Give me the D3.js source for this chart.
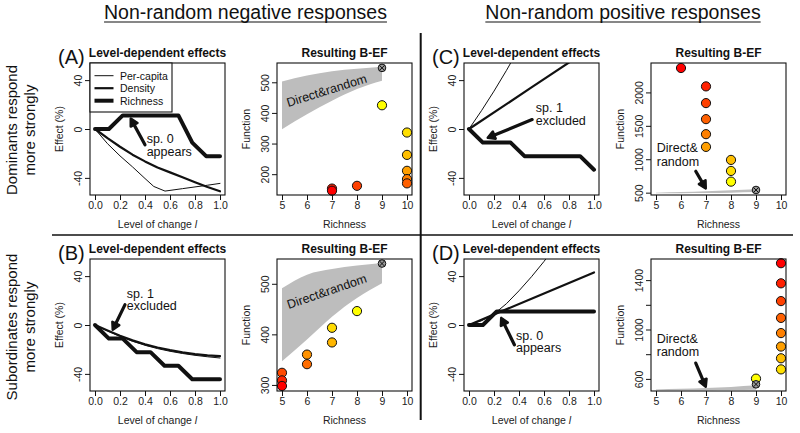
<!DOCTYPE html>
<html><head><meta charset="utf-8">
<script src="https://cdn.jsdelivr.net/npm/d3@7"></script>
<style>body{margin:0;background:#fff} svg{display:block;font-family:"Liberation Sans",Arial,Helvetica,sans-serif}</style>
</head><body><svg id="c" width="800" height="433"></svg>
<script>
// ---------------- DATA ----------------
const levelTicks = [0, 0.2, 0.4, 0.6, 0.8, 1.0];
const effectTicks = [-40, 0, 40];
const richnessTicks = [5, 6, 7, 8, 9, 10];
const legendLabels = ["Per-capita", "Density", "Richness"];

// Level-dependent effects: [level, effect %]
const A_perCapita = [[0,0],[0.1,-12],[0.2,-22],[0.3,-31],[0.4,-40.5],[0.47,-47],[0.56,-50.8],[0.7,-48.8],[0.8,-47.4],[0.9,-46],[1,-44.5]];
const A_density   = [[0,0],[0.1,-7.5],[0.2,-14.5],[0.3,-21],[0.4,-26.5],[0.5,-31.5],[0.6,-35.5],[0.7,-39.5],[0.8,-43.5],[0.9,-47.5],[1,-51]];
const A_richness  = [[0,0],[0.111,0],[0.222,11.1],[0.667,11.1],[0.778,-11.1],[0.889,-22.2],[1,-22.2]];

const B_perCapita = [[0,0],[0.1,-4.8],[0.2,-9.3],[0.3,-13.3],[0.4,-16.6],[0.5,-19.3],[0.6,-21.5],[0.7,-23.3],[0.8,-24.8],[0.9,-26],[1,-27]];
const B_density   = [[0,0],[0.1,-4.5],[0.2,-8.8],[0.3,-12.6],[0.4,-15.8],[0.5,-18.4],[0.6,-20.6],[0.7,-22.4],[0.8,-23.8],[0.9,-24.8],[1,-25.5]];
const B_richness  = [[0,0],[0.111,-11.1],[0.222,-11.1],[0.333,-22.2],[0.444,-22.2],[0.556,-33.3],[0.667,-33.3],[0.778,-44.4],[1,-44.4]];

const C_perCapita = [[0,0],[0.1,15],[0.2,31],[0.3,48],[0.4,66],[0.5,85],[1,190]];
const C_density   = [[0,0],[0.5,34],[1,68]];
const C_richness  = [[0,0],[0.111,-11.1],[0.333,-11.1],[0.444,-22.2],[0.889,-22.2],[1,-33.3]];

const D_perCapita = [[0,0],[0.1,3.5],[0.2,9],[0.3,17.5],[0.4,28],[0.5,39.5],[0.6,52],[0.7,66],[0.8,81],[0.9,97],[1,114]];
const D_density   = [[0,0],[0.5,21.5],[1,43]];
const D_richness  = [[0,0],[0.111,0],[0.222,11.1],[1,11.1]];

// Resulting B-EF: richness / function (ordered from low to high level of change)
const A_rich = [9,10,10,10,10,10,8,7,7];
const A_func = [425,336,263,211,184,170,162,153,146];
const B_rich = [8,7,7,6,6,5,5,5];
const B_func = [446,413,384,360,341,324,309,298];
const C_rich = [8,8,8,7,7,7,7,7,6];
const C_func = [665,825,990,1185,1375,1600,1840,2090,2365];
const D_rich = [9,10,10,10,10,10,10,10,10];
const D_func = [602,677,767,862,971,1094,1230,1374,1537];

// Baseline (no change) community: [richness, function]
const A_base = [9, 547];
const B_base = [9, 540];
const C_base = [9, 540];
const D_base = [9, 556];

// Direct & random envelope
const bandRich = [5, 6, 7, 8, 9];
const A_bandHi = [503, 522, 536, 544, 551];
const A_bandLo = [347, 396, 440, 478, 505];
const B_bandHi = [491, 518, 529, 536, 541];
const B_bandLo = [347, 390, 435, 472, 501];
const C_bandHi = [500, 510, 522, 535, 550];
const C_bandLo = [490, 492, 495, 500, 510];
const D_bandHi = [515, 520, 527, 535, 548];
const D_bandLo = [508, 508, 509, 510, 512];

const A_funcTicks = [200, 300, 400, 500];
const B_funcTicks = [300, 400, 500];
const C_funcTicks = [500, 1000, 1500, 2000];
const D_funcTicks = [600, 800, 1000, 1200, 1400];
const D_funcLabels = [600, 1000, 1400];

// ---------------- DRAWING ----------------
const svg = d3.select("#c");
const defs = svg.append("defs");
const PW = 135, PH = 132;
const INK = "#111";

function arrow(g, t, h) {
  const [x1,y1] = t, [x2,y2] = h;
  const a = Math.atan2(y2-y1, x2-x1), L = 8, sp = 0.5;
  g.append("line").attr("x1",x1).attr("y1",y1).attr("x2",x2 - 2*Math.cos(a)).attr("y2",y2 - 2*Math.sin(a))
    .attr("stroke",INK).attr("stroke-width",3.2).attr("stroke-linecap","round");
  g.append("path").attr("d",`M${x2-L*Math.cos(a-sp)},${y2-L*Math.sin(a-sp)}L${x2},${y2}L${x2-L*Math.cos(a+sp)},${y2-L*Math.sin(a+sp)}Z`)
    .attr("fill",INK).attr("stroke",INK).attr("stroke-width",2.5).attr("stroke-linejoin","round");
}

function styleAxisText(ax) {
  ax.attr("font-size", 10.5).attr("font-family", null);
  ax.selectAll("text").attr("fill", "#222");
  ax.selectAll("line").attr("stroke", INK);
  ax.select(".domain").remove();
}

function bottomAxis(g, x, y0, ticks, fmt) {
  const ax = g.append("g").attr("transform", `translate(0,${y0+PH})`)
    .call(d3.axisBottom(x).tickValues(ticks).tickFormat(fmt).tickSize(5).tickPadding(2));
  styleAxisText(ax);
}
function leftAxis(g, y, x0, ticks, labels) {
  const ay = g.append("g").attr("transform", `translate(${x0},0)`)
    .call(d3.axisLeft(y).tickValues(ticks).tickSize(5).tickFormat(d => (!labels || labels.includes(d)) ? d : ""));
  styleAxisText(ay);
  ay.selectAll("text").attr("x", 0).attr("dy", 0).attr("text-anchor", "middle").attr("transform", "translate(-8,0) rotate(-90)");
}

function frame(g, x0, y0, title, xTitle, yTitle) {
  g.append("rect").attr("x", x0).attr("y", y0).attr("width", PW).attr("height", PH)
    .attr("fill", "none").attr("stroke", INK).attr("stroke-width", 1.1);
  g.append("text").attr("x", x0 + PW/2).attr("y", y0 - 6).attr("text-anchor", "middle")
    .attr("font-weight", "bold").attr("font-size", 12).attr("fill", INK).text(title);
  const xt = g.append("text").attr("x", x0 + PW/2).attr("y", y0 + PH + 33).attr("text-anchor", "middle")
    .attr("font-size", 10.5).attr("fill", "#222");
  if (Array.isArray(xTitle)) { xt.text(xTitle[0]); xt.append("tspan").attr("font-style", "italic").text(xTitle[1]); }
  else xt.text(xTitle);
  g.append("text").attr("transform", `translate(${x0-27},${y0+PH/2}) rotate(-90)`).attr("text-anchor", "middle")
    .attr("font-size", 10.5).attr("fill", "#222").text(yTitle);
}

function leftPanel(x0, y0, letter, pc, den, rich, legend, ann) {
  const g = svg.append("g");
  const x = d3.scaleLinear().domain([-0.04, 1.04]).range([x0, x0 + PW]);
  const y = d3.scaleLinear().domain([-54, 54]).range([y0 + PH, y0]);
  const cid = "clip" + letter;
  defs.append("clipPath").attr("id", cid).append("rect").attr("x", x0).attr("y", y0).attr("width", PW).attr("height", PH);
  const line = d3.line().x(p => x(p[0])).y(p => y(p[1]));
  const lg = g.append("g").attr("clip-path", `url(#${cid})`);
  [[pc, 1], [den, 2.2], [rich, 4]].forEach(([s, w]) =>
    lg.append("path").attr("d", line(s)).attr("fill", "none").attr("stroke", INK)
      .attr("stroke-width", w).attr("stroke-linejoin", "round").attr("stroke-linecap", "round"));
  bottomAxis(g, x, y0, levelTicks, d3.format(".1f"));
  leftAxis(g, y, x0, effectTicks);
  frame(g, x0, y0, "Level-dependent effects", ["Level of change ", "l"], "Effect (%)");
  g.append("text").attr("x", x0 - 32).attr("y", y0 + 1).attr("font-size", 20).attr("fill", INK).text(`(${letter})`);
  if (legend) {
    const lw = 82, lh = 49;
    g.append("rect").attr("x", x0).attr("y", y0).attr("width", lw).attr("height", lh)
      .attr("fill", "#fff").attr("stroke", INK).attr("stroke-width", 1.1);
    [1, 2.2, 4].forEach((w, i) => {
      const yy = y0 + 12.7 + i * 12.5;
      g.append("line").attr("x1", x0 + 4.5).attr("x2", x0 + 23.5).attr("y1", yy).attr("y2", yy)
        .attr("stroke", INK).attr("stroke-width", w);
      g.append("text").attr("x", x0 + 30).attr("y", yy + 3.8).attr("font-size", 10.5).attr("fill", INK).text(legendLabels[i]);
    });
  }
  ann.lines.forEach((t, i) => g.append("text").attr("x", x(ann.text[0])).attr("y", y(ann.text[1]) + i * 12.5)
    .attr("font-size", 12.5).attr("fill", INK).text(t));
  arrow(g, [x(ann.tail[0]), y(ann.tail[1])], [x(ann.head[0]), y(ann.head[1])]);
}

function rightPanel(x0, y0, letter, rich, func, base, bandHi, bandLo, yDom, yTicks, yLabels, ann) {
  const g = svg.append("g");
  const x = d3.scaleLinear().domain([4.8, 10.2]).range([x0, x0 + PW]);
  const y = d3.scaleLinear().domain(yDom).range([y0 + PH, y0]);
  const area = d3.area().x((d, i) => x(bandRich[i])).y0((d, i) => y(bandLo[i])).y1((d, i) => y(bandHi[i])).curve(d3.curveMonotoneX);
  g.append("path").attr("d", area(bandRich)).attr("fill", "#bdbdbd");
  const n = func.length;
  const col = i => d3.hsl(60 * (1 - i / (n - 1)), 1, 0.5).toString();
  func.forEach((v, i) => g.append("circle").attr("cx", x(rich[i])).attr("cy", y(v)).attr("r", 4.6)
    .attr("fill", col(i)).attr("stroke", INK).attr("stroke-width", 1));
  const bx = x(base[0]), by = y(base[1]), r = 3.8;
  g.append("circle").attr("cx", bx).attr("cy", by).attr("r", r).attr("fill", "#999").attr("stroke", INK).attr("stroke-width", 1);
  const k = r * 0.72;
  g.append("path").attr("d", `M${bx-k},${by-k}L${bx+k},${by+k}M${bx-k},${by+k}L${bx+k},${by-k}`).attr("stroke", INK).attr("stroke-width", 1);
  bottomAxis(g, x, y0, richnessTicks, d3.format("d"));
  leftAxis(g, y, x0, yTicks, yLabels);
  frame(g, x0, y0, "Resulting B-EF", "Richness", "Function");
  if (ann.angle !== undefined) {
    g.append("text").attr("transform", `translate(${x(ann.text[0])},${y(ann.text[1])}) rotate(${ann.angle})`)
      .attr("text-anchor", "middle").attr("font-size", 12.5).attr("fill", INK).text(ann.lines[0]);
  } else {
    ann.lines.forEach((t, i) => g.append("text").attr("x", x(ann.text[0])).attr("y", y(ann.text[1]) + i * 13.5)
      .attr("font-size", 12.5).attr("fill", INK).text(t));
    arrow(g, [x(ann.tail[0]), y(ann.tail[1])], [x(ann.head[0]), y(ann.head[1])]);
  }
}

const R1 = 63, R2 = 259;
leftPanel(90, R1, "A", A_perCapita, A_density, A_richness, true,
  {lines: ["sp. 0", "appears"], text: [0.413, -11.5], tail: [0.40, -12.9], head: [0.286, 8.5]});
leftPanel(90, R2, "B", B_perCapita, B_density, B_richness, false,
  {lines: ["sp. 1", "excluded"], text: [0.254, 22.5], tail: [0.24, 16.7], head: [0.142, -3.9]});
leftPanel(464, R1, "C", C_perCapita, C_density, C_richness, false,
  {lines: ["sp. 1", "excluded"], text: [0.534, 13.7], tail: [0.505, 7.7], head: [0.15, -7.2]});
leftPanel(464, R2, "D", D_perCapita, D_density, D_richness, false,
  {lines: ["sp. 0", "appears"], text: [0.376, -12.1], tail: [0.363, -16.2], head: [0.258, 5.8]});

rightPanel(277, R1, "A", A_rich, A_func, A_base, A_bandHi, A_bandLo, [132, 563], A_funcTicks, null,
  {lines: ["Direct&random"], text: [6.84, 460], angle: -17.4});
rightPanel(277, R2, "B", B_rich, B_func, B_base, B_bandHi, B_bandLo, [288, 549], B_funcTicks, null,
  {lines: ["Direct&random"], text: [6.85, 477], angle: -19});
rightPanel(651, R1, "C", C_rich, C_func, C_base, C_bandHi, C_bandLo, [465, 2440], C_funcTicks, null,
  {lines: ["Direct&", "random"], text: [5.03, 1104], tail: [6.59, 820], head: [6.99, 565]});
rightPanel(651, R2, "D", D_rich, D_func, D_base, D_bandHi, D_bandLo, [502, 1571], D_funcTicks, D_funcLabels,
  {lines: ["Direct&", "random"], text: [5.03, 894], tail: [6.59, 728], head: [6.99, 537]});

// headers
[["Non-random negative responses", 245.5], ["Non-random positive responses", 623]].forEach(([t, cx]) => {
  const tx = svg.append("text").attr("x", cx).attr("y", 18.5).attr("text-anchor", "middle")
    .attr("font-size", 19.5).attr("fill", INK).text(t);
  const w = tx.node().getComputedTextLength();
  svg.append("line").attr("x1", cx - w/2).attr("x2", cx + w/2).attr("y1", 22).attr("y2", 22)
    .attr("stroke", INK).attr("stroke-width", 1.2);
});

// row labels
[[["Dominants respond", "more strongly"], 130], [["Subordinates respond", "more strongly"], 327]].forEach(([ls, cy]) => {
  ls.forEach((t, i) => svg.append("text").attr("transform", `translate(${17 + i*18},${cy}) rotate(-90)`)
    .attr("text-anchor", "middle").attr("font-size", 15).attr("fill", INK).text(t));
});

// separators
svg.append("line").attr("x1", 420.7).attr("x2", 420.7).attr("y1", 33).attr("y2", 420).attr("stroke", INK).attr("stroke-width", 2);
svg.append("line").attr("x1", 52).attr("x2", 793).attr("y1", 235).attr("y2", 235).attr("stroke", INK).attr("stroke-width", 1.5);
</script></body></html>
